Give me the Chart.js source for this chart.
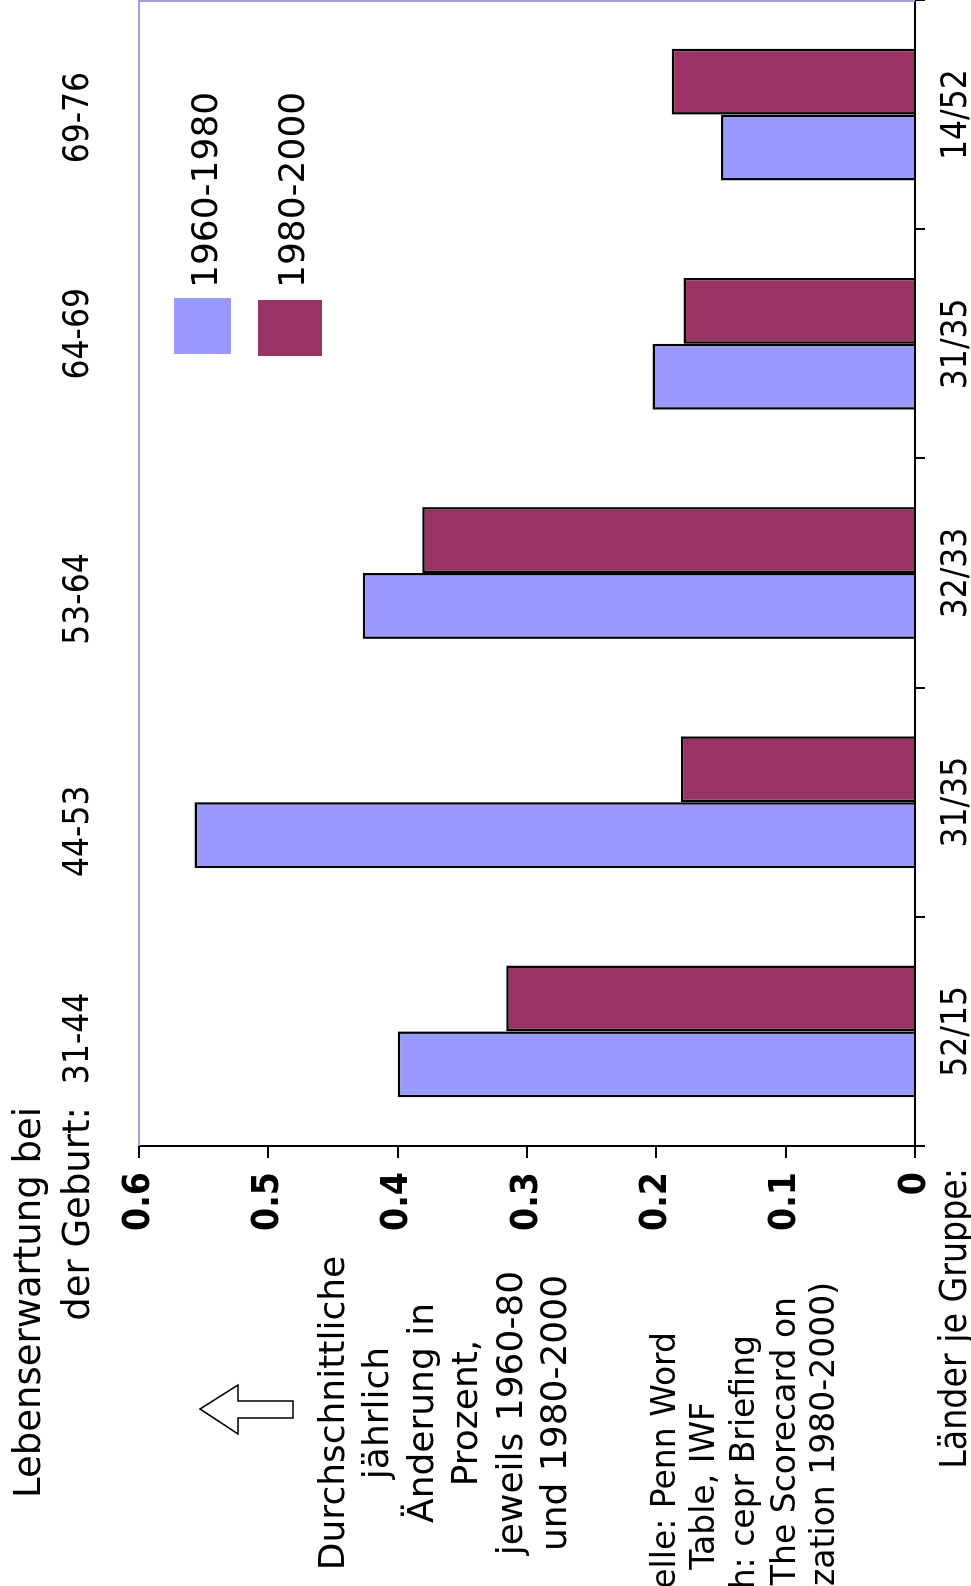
<!DOCTYPE html>
<html>
<head>
<meta charset="utf-8">
<script src="https://cdn.jsdelivr.net/npm/chart.js@4.4.1/dist/chart.umd.min.js"></script>
<style>
  html, body { margin: 0; padding: 0; background: #fff; overflow: hidden; }
  /* the chart is drawn upright and turned a quarter turn to the left */
  #wrap {
    position: absolute; left: 0; top: 0;
    width: 1586px; height: 971px;
    transform-origin: 0 0;
    transform: translate(0, 1586px) rotate(-90deg);
  }
</style>
</head>
<body>
<div id="wrap"><canvas id="chart" width="1586" height="971"></canvas></div>
<script>
// life expectancy groups (top row) and countries per group (bottom row)
const groups = ['31-44', '44-53', '53-64', '64-69', '69-76'];
const countries = ['52/15', '31/35', '32/33', '31/35', '14/52'];

// average yearly change in percent
const change1960 = [0.40, 0.557, 0.427, 0.203, 0.15];
const change1980 = [0.316, 0.181, 0.381, 0.179, 0.188];

const seriesNames = ['1960-1980', '1980-2000'];
const seriesColors = ['#9999ff', '#993366'];

const FONT = "'DejaVu Sans', Verdana, sans-serif";
const NARROW = "'DejaVu Sans Condensed', 'DejaVu Sans', sans-serif";

// the top row labels were placed by hand in the original, a bit off the bar centres
const groupNudge = [-7, -29, -26, 10, -3];

// extra text, arrow and legend drawn on top
const extras = {
    id: 'extras',
    afterDraw(chart) {
        const ctx = chart.ctx;
        const x = chart.scales.x;
        const area = chart.chartArea;
        ctx.save();

        // plot frame (top and right)
        ctx.strokeStyle = '#a0a0d0';
        ctx.lineWidth = 2;
        ctx.beginPath();
        ctx.moveTo(area.left, area.top);
        ctx.lineTo(area.right - 1, area.top);
        ctx.lineTo(area.right - 1, area.bottom);
        ctx.stroke();

        ctx.fillStyle = '#000';
        ctx.textBaseline = 'alphabetic';

        // top row: life expectancy
        ctx.font = '35px ' + NARROW;
        ctx.textAlign = 'center';
        groups.forEach((g, i) => ctx.fillText(g, x.getPixelForValue(i) + groupNudge[i], 88));

        ctx.font = '37px ' + FONT;
        ctx.textAlign = 'right';
        ctx.fillText('Lebenserwartung bei', 479, 40);
        ctx.fillText('der Geburt:', 479, 89);

        ctx.font = '37px ' + NARROW;
        ctx.fillText('Länder je Gruppe:', 418, 966);

        // y axis description
        ctx.font = '36px ' + FONT;
        ctx.textAlign = 'center';
        const desc = ['Durchschnittliche', 'jährlich', 'Änderung in', 'Prozent,', 'jeweils 1960-80', 'und 1980-2000'];
        desc.forEach((t, i) => ctx.fillText(t, 173, 344 + i * 44.4));

        // source
        ctx.font = '33px ' + FONT;
        ctx.textAlign = 'right';
        ctx.fillText('Quelle: Penn Word', 254, 675);
        ctx.fillText('Table, IWF', 184, 714);
        ctx.fillText('nach: cepr Briefing', 251, 754);
        ctx.fillText('The Scorecard on', 289, 795);
        ctx.fillText('(Globalization 1980-2000)', 304, 834);

        // hollow arrow
        ctx.fillStyle = '#fff';
        ctx.strokeStyle = '#000';
        ctx.lineWidth = 1.5;
        ctx.beginPath();
        ctx.moveTo(177, 200);
        ctx.lineTo(201, 238);
        ctx.lineTo(185, 238);
        ctx.lineTo(185, 293);
        ctx.lineTo(168, 293);
        ctx.lineTo(168, 238);
        ctx.lineTo(152, 238);
        ctx.closePath();
        ctx.fill();
        ctx.stroke();

        // legend
        const boxes = [[1232, 174, 56, 57], [1230, 258, 56, 64]];
        ctx.font = '36px ' + FONT;
        ctx.textAlign = 'left';
        seriesNames.forEach((name, i) => {
            const b = boxes[i];
            ctx.fillStyle = seriesColors[i];
            ctx.fillRect(b[0], b[1], b[2], b[3]);
            ctx.fillStyle = '#000';
            ctx.fillText(name, 1298, b[1] + b[3] / 2 + 14);
        });

        ctx.restore();
    }
};

new Chart(document.getElementById('chart'), {
    type: 'bar',
    data: {
        labels: countries,
        datasets: [
            { label: seriesNames[0], data: change1960, backgroundColor: seriesColors[0] },
            { label: seriesNames[1], data: change1980, backgroundColor: seriesColors[1] }
        ]
    },
    options: {
        responsive: false,
        animation: false,
        devicePixelRatio: 1,
        layout: { padding: { top: 139, left: 0, right: 0, bottom: 0 } },
        datasets: {
            bar: {
                categoryPercentage: 0.575,
                barPercentage: 1.0,
                borderColor: '#000',
                borderWidth: 2.5
            }
        },
        plugins: {
            legend: { display: false },
            tooltip: { enabled: false }
        },
        scales: {
            x: {
                afterFit: scale => { scale.height = 56; },
                grid: { drawOnChartArea: false, tickLength: 10, color: '#000', lineWidth: 2 },
                border: { color: '#000', width: 2 },
                ticks: { color: '#000', padding: 11, font: { family: NARROW, size: 35 } }
            },
            y: {
                min: 0,
                max: 0.6,
                afterFit: scale => { scale.width = 440; },
                grid: { drawOnChartArea: false, tickLength: 12, color: '#000', lineWidth: 2 },
                border: { color: '#000', width: 2 },
                ticks: {
                    stepSize: 0.1,
                    color: '#000',
                    padding: 14,
                    font: { family: NARROW, size: 37, weight: 'bold' },
                    callback: v => v === 0 ? '0' : v.toFixed(1)
                }
            }
        }
    },
    plugins: [extras]
});
</script>
</body>
</html>
